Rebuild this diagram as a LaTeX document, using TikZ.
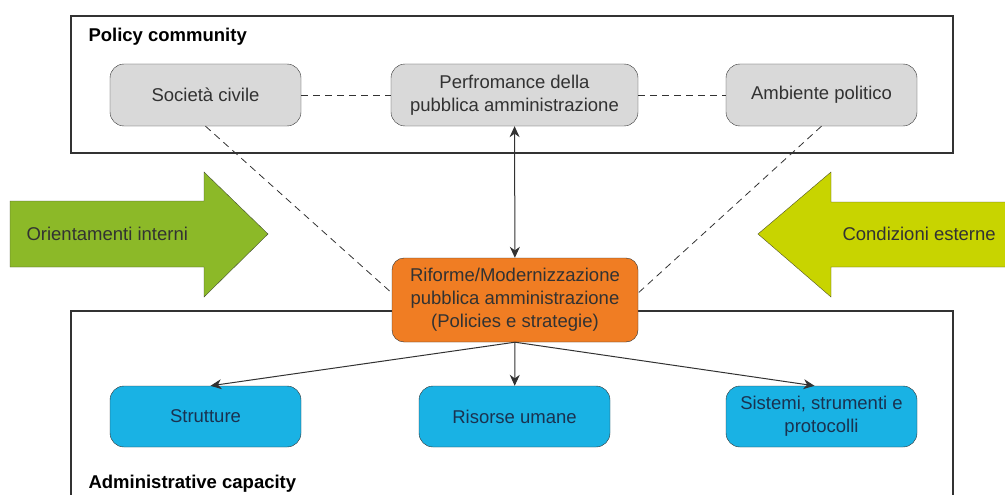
\documentclass[tikz,border=0pt]{standalone}
\usepackage{fontspec}
\setmainfont{Liberation Sans}
\usetikzlibrary{arrows.meta}
\definecolor{boxgrey}{RGB}{217,217,217}
\definecolor{reforange}{RGB}{240,125,35}
\definecolor{capblue}{RGB}{25,178,228}
\definecolor{ingreen}{RGB}{140,185,40}
\definecolor{extgreen}{RGB}{200,212,0}
\definecolor{darkline}{RGB}{50,50,50}
\definecolor{textgrey}{RGB}{50,50,50}
\definecolor{textnavy}{RGB}{25,50,80}
\begin{document}
\begin{tikzpicture}[x=1pt,y=-1pt,
  every node/.style={font=\fontsize{18.5}{23}\selectfont},
  greybox/.style={draw=darkline,fill=boxgrey,rounded corners=14pt,minimum width=191pt,minimum height=62pt,align=center,text=textgrey},
  bluebox/.style={draw=darkline,fill=capblue,rounded corners=14pt,minimum width=191pt,minimum height=61pt,align=center,text=textnavy},
  orangebox/.style={draw=darkline,fill=reforange,rounded corners=12pt,minimum width=246pt,minimum height=84pt,align=center,text=textgrey},
  frame/.style={draw=darkline,line width=1.8pt},
  dashline/.style={draw=darkline,dash pattern=on 7pt off 5pt,line width=0.8pt},
  arrowline/.style={draw=darkline,line width=1pt,-{Stealth[length=11pt,width=10pt]}}]
\useasboundingbox (0,0) rectangle (1005,495);
% the two frames
\draw[frame] (71,16) rectangle (953,153);
\node[anchor=base west,font=\fontsize{18.5}{23}\selectfont\bfseries] (polcom) at (85,42) {Policy community};
\draw[frame] (71,495) -- (71,311) -- (953,311) -- (953,495);
\node[anchor=base west,font=\fontsize{18.5}{23}\selectfont\bfseries] (admcap) at (85,488) {Administrative capacity};
% side arrows
\draw[draw=darkline!80!ingreen,fill=ingreen] (10,201) -- (204,201) -- (204,172) -- (268,234) -- (204,297) -- (204,267) -- (10,267) -- cycle;
\node[anchor=base west,text=textgrey] (orient) at (23,240) {Orientamenti interni};
\draw[draw=darkline!80!extgreen,fill=extgreen] (1010,202) -- (831,202) -- (831,172) -- (758,234) -- (831,297) -- (831,267) -- (1010,267) -- cycle;
\node[anchor=base west,text=textgrey] (cond) at (839,240) {Condizioni esterne};
% policy community
\node[greybox] (soc) at (205.5,95) {Società civile};
\node[greybox,minimum width=247pt] (perf) at (514.5,95) {Perfromance della\\pubblica amministrazione};
\node[greybox] (amb) at (821.5,95) {Ambiente politico};
% reform
\node[orangebox] (ref) at (515,300) {Riforme/Modernizzazione\\pubblica amministrazione\\(Policies e strategie)};
% administrative capacity
\node[bluebox] (strut) at (205.5,416.5) {Strutture};
\node[bluebox] (ris) at (514.5,416.5) {Risorse umane};
\node[bluebox] (sist) at (821.5,416.5) {Sistemi, strumenti e\\protocolli};
% links
\draw[dashline] (soc) -- (perf);
\draw[dashline] (perf) -- (amb);
\draw[dashline] (soc.south) -- ([yshift=7pt]ref.west);
\draw[dashline] (amb.south) -- ([yshift=7pt]ref.east);
\draw[arrowline,{Stealth[length=11pt,width=10pt]}-{Stealth[length=11pt,width=10pt]}] (perf) -- (ref);
\draw[arrowline] (ref.south) -- ([xshift=5pt]strut.north);
\draw[arrowline] (ref.south) -- (ris);
\draw[arrowline] (ref.south) -- ([xshift=-7pt]sist.north);
\end{tikzpicture}
\end{document}
